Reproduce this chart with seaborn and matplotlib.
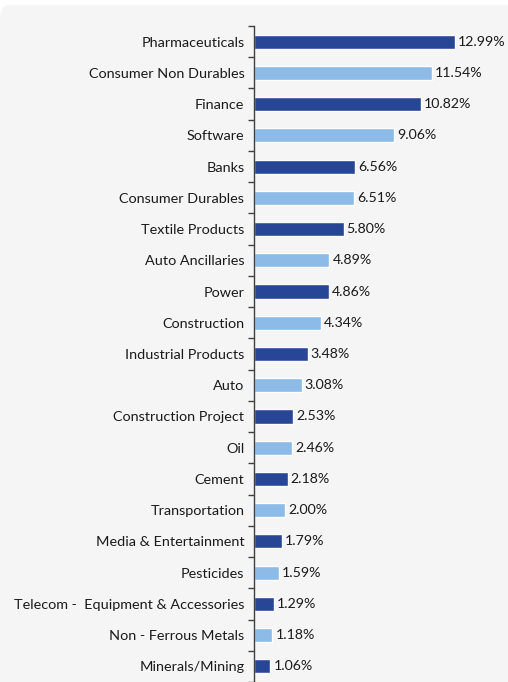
import matplotlib
matplotlib.use("Agg")
import matplotlib.pyplot as plt
from matplotlib.patches import FancyBboxPatch
import seaborn as sns
import pandas as pd

sectors = [
    "Pharmaceuticals", "Consumer Non Durables", "Finance", "Software", "Banks",
    "Consumer Durables", "Textile Products", "Auto Ancillaries", "Power",
    "Construction", "Industrial Products", "Auto", "Construction Project", "Oil",
    "Cement", "Transportation", "Media & Entertainment", "Pesticides",
    "Telecom -  Equipment & Accessories", "Non - Ferrous Metals", "Minerals/Mining",
]
weights = [12.99, 11.54, 10.82, 9.06, 6.56, 6.51, 5.80, 4.89, 4.86, 4.34, 3.48,
           3.08, 2.53, 2.46, 2.18, 2.00, 1.79, 1.59, 1.29, 1.18, 1.06]
shade = ["dark" if i % 2 == 0 else "light" for i in range(len(sectors))]

df = pd.DataFrame({"sector": sectors, "weight": weights, "shade": shade})
palette = {"dark": "#284696", "light": "#8BBBE6"}

sns.set_theme(style="white")
plt.rcParams["font.family"] = ["Lato", "DejaVu Sans"]

fig = plt.figure(figsize=(5.08, 6.82), dpi=100, facecolor="white")
panel = FancyBboxPatch((0.0, -0.05), 1.05, 1.05 - 5 / 682,
                       boxstyle="round,pad=0,rounding_size=0.02",
                       transform=fig.transFigure, facecolor="#F5F5F5",
                       edgecolor="none", zorder=-10)
fig.patches.append(panel)

ax = fig.add_axes([254 / 508, 0.0, (501 - 254) / 508, 1 - 26 / 682])
ax.set_facecolor("none")
ax.set_zorder(5)

sns.barplot(data=df, x="weight", y="sector", hue="shade", palette=palette,
            dodge=False, width=0.45, legend=False, ax=ax, saturation=1)

ax.set_xlim(0, 16)
ax.set_ylim(len(sectors) - 0.5, -0.5)
ax.set_xlabel("")
ax.set_ylabel("")
ax.set_xticks([])

for i, v in enumerate(weights):
    ax.text(v + 0.2, i, f"{v:.2f}%", va="center", ha="left",
            fontsize=10.2, color="#1a1a1a", clip_on=False)

ax.set_yticks(range(len(sectors)))
ax.set_yticklabels(sectors, fontsize=10.4, color="#1a1a1a")
ax.tick_params(axis="y", which="major", length=0, pad=7)
ax.set_yticks([i - 0.5 for i in range(len(sectors) + 1)], minor=True)
ax.tick_params(axis="y", which="minor", length=4, width=1, color="#404040",
               direction="out", left=True)

for side in ["top", "right", "bottom"]:
    ax.spines[side].set_visible(False)
ax.spines["left"].set_color("#404040")
ax.spines["left"].set_linewidth(1)

fig.savefig("out.png", dpi=100, facecolor="white")
